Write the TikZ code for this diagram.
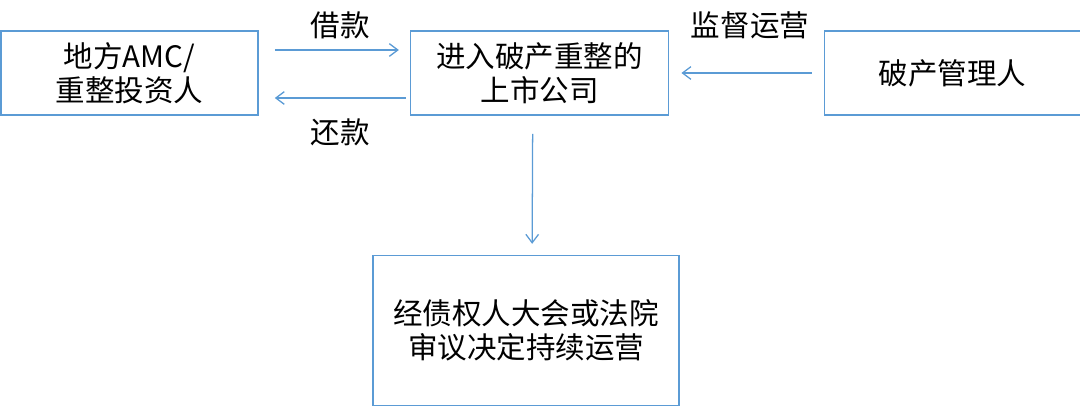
\documentclass[tikz,border=0pt]{standalone}
\usepackage{fontspec}
\setmainfont{Noto Sans CJK SC}
\usetikzlibrary{positioning,calc,arrows.meta}
\definecolor{boxblue}{RGB}{91,155,213}

\tikzset{
  box/.style={draw=boxblue, line width=1.1pt, align=center, inner sep=0pt,
    font=\fontsize{21}{24}\selectfont},
  flow/.style={draw=boxblue, line width=0.9pt,
    -{Straight Barb[length=6pt,width=9pt]}},
  lbl/.style={font=\fontsize{21}{24}\selectfont},
}

\begin{document}
\begin{tikzpicture}[x=0.025cm, y=-0.025cm]
    \useasboundingbox (0,0) rectangle (1080,407);

    \node[box, minimum width=6.425cm, minimum height=2.1cm] (amc) at (129.5,73) {地方AMC/\\重整投资人};

    \node[box, minimum width=6.45cm, minimum height=2.1cm, right=3.775cm of amc] (firm) {进入破产重整的\\上市公司};

    \node[box, minimum width=6.4cm, minimum height=2.1cm, right=3.85cm of firm] (admin) {破产管理人};

    \node[box, minimum width=7.65cm, minimum height=3.75cm, below=3.475cm of firm, xshift=-0.3375cm] (court) {经债权人大会或法院\\审议决定持续运营};

    \node[lbl] (loan) at (340,25) {借款};
    \node[lbl] (repay) at (340,132) {还款};
    \node[lbl] (watch) at (750,25) {监督运营};

    \draw[flow] ([shift={(16,-23)}]amc.east) -- ([shift={(-11,-23)}]firm.west);
    \draw[flow] ([shift={(-4,25)}]firm.west) -- ([shift={(16,25)}]amc.east);
    \draw[flow] ([shift={(-12,0)}]admin.west) -- ([shift={(12,0)}]firm.east);
    \draw[flow] ([shift={(-7,18)}]firm.south) -- ([shift={(6,-11)}]court.north);
\end{tikzpicture}
\end{document}
